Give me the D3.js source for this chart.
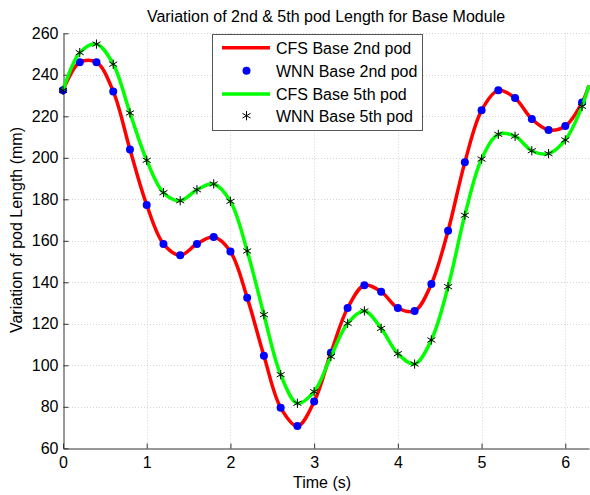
<!DOCTYPE html>
<html lang="en">
  <head>
    <meta charset="utf-8">
    <title>Variation of pod Length</title>
    <style>
      body { margin: 0; background: #fff; }
      text { font-family: "Liberation Sans", Arial, sans-serif; fill: #000; }
    </style>
  </head>
  <body>
    <svg width="590" height="495"></svg>
    <script src="https://cdn.jsdelivr.net/npm/d3@7"></script>
    <script>
      // sample times of the WNN points (s)
      const time = [0, 0.2, 0.4, 0.6, 0.8, 1.0, 1.2, 1.4, 1.6, 1.8, 2.0, 2.2, 2.4, 2.6, 2.8, 3.0,
                    3.2, 3.4, 3.6, 3.8, 4.0, 4.2, 4.4, 4.6, 4.8, 5.0, 5.2, 5.4, 5.6, 5.8, 6.0, 6.2];
      const wnn2nd = [232.5, 246, 246, 232, 204, 177.3, 158.5, 153, 158.5, 161.8, 154.8, 132.6, 104.6, 79.6, 70.7, 82.5,
                      106, 127.6, 138.6, 135.5, 127.6, 126.2, 139.2, 164.9, 197.8, 222.9, 232.5, 228.8, 218.7, 213.4, 215.3, 226.6];
      const wnn5th = [232.5, 250.7, 254.8, 245.1, 221.6, 198.8, 183.2, 179.3, 184.6, 187.4, 179, 155.1, 124.4, 95.5, 81.7, 87.3,
                      104.2, 120.2, 126.2, 117.8, 105.6, 100.6, 112.2, 137.9, 172.3, 199.4, 211.3, 210.4, 203.4, 202, 208.6, 224.8];
      // CFS curves: same samples continued to t = 2*pi
      const cfsTime = time.concat([2 * Math.PI]);
      const cfs2nd = wnn2nd.concat([235]);
      const cfs5th = wnn5th.concat([235]);

      const xTicks = [0, 1, 2, 3, 4, 5, 6];
      const yTicks = [60, 80, 100, 120, 140, 160, 180, 200, 220, 240, 260];
      const legendItems = ['CFS Base 2nd pod', 'WNN Base 2nd pod', 'CFS Base 5th pod', 'WNN Base 5th pod'];

      const svg = d3.select('svg');
      const plot = { left: 63, right: 589, top: 33.3, bottom: 448.3 };
      const fontSize = '16px';

      const x = d3.scaleLinear().domain([0, 2 * Math.PI]).range([plot.left, plot.right]);
      const y = d3.scaleLinear().domain([60, 260]).range([plot.bottom, plot.top]);

      // grid
      const grid = svg.append('g')
        .attr('stroke', '#d4d4d4')
        .attr('stroke-width', 1)
        .attr('stroke-dasharray', '1,2');
      grid.selectAll('.gx').data(xTicks.slice(1)).enter()
        .append('line')
        .attr('x1', d => Math.round(x(d)) + 0.5).attr('x2', d => Math.round(x(d)) + 0.5)
        .attr('y1', plot.top).attr('y2', plot.bottom);
      grid.selectAll('.gy').data(yTicks.slice(1)).enter()
        .append('line')
        .attr('y1', d => Math.round(y(d)) + 0.5).attr('y2', d => Math.round(y(d)) + 0.5)
        .attr('x1', plot.left).attr('x2', plot.right);

      // axes
      const xAxis = svg.append('g')
        .attr('transform', 'translate(0,' + (Math.round(plot.bottom) + 0.5) + ')')
        .call(d3.axisBottom(x).tickValues(xTicks).tickFormat(d3.format('d'))
          .tickSizeInner(-5).tickSizeOuter(0).tickPadding(8));
      const yAxis = svg.append('g')
        .attr('transform', 'translate(' + (plot.left + 0.5) + ',0)')
        .call(d3.axisLeft(y).tickValues(yTicks).tickSizeInner(-5).tickSizeOuter(0).tickPadding(5));
      [xAxis, yAxis].forEach(a => {
        a.selectAll('text').style('font-size', fontSize).style('font-family', '"Liberation Sans", Arial, sans-serif');
        a.select('.domain').attr('stroke', '#333');
        a.selectAll('.tick line').attr('stroke', '#333');
      });

      // curves
      const line = d3.line()
        .x(d => x(d[0]))
        .y(d => y(d[1]))
        .curve(d3.curveCatmullRom.alpha(0.5));

      svg.append('path')
        .datum(d3.zip(cfsTime, cfs2nd))
        .attr('fill', 'none')
        .attr('stroke', '#ff0000')
        .attr('stroke-width', 3.5)
        .attr('d', line);

      svg.selectAll('.dot').data(d3.zip(time, wnn2nd)).enter()
        .append('circle')
        .attr('cx', d => x(d[0]))
        .attr('cy', d => y(d[1]))
        .attr('r', 4)
        .attr('fill', '#0000ff');

      svg.append('path')
        .datum(d3.zip(cfsTime, cfs5th))
        .attr('fill', 'none')
        .attr('stroke', '#00ff00')
        .attr('stroke-width', 3.5)
        .attr('d', line);

      const star = d3.symbol().type(d3.symbolAsterisk).size(60);
      svg.selectAll('.star').data(d3.zip(time, wnn5th)).enter()
        .append('path')
        .attr('transform', d => 'translate(' + x(d[0]) + ',' + y(d[1]) + ')')
        .attr('d', star)
        .attr('fill', 'none')
        .attr('stroke', '#000')
        .attr('stroke-width', 1);

      // title and labels
      svg.append('text')
        .attr('x', 326).attr('y', 22)
        .attr('text-anchor', 'middle')
        .style('font-size', fontSize)
        .text('Variation of 2nd & 5th pod Length for Base Module');
      svg.append('text')
        .attr('x', 322).attr('y', 488)
        .attr('text-anchor', 'middle')
        .style('font-size', fontSize)
        .text('Time (s)');
      svg.append('text')
        .attr('transform', 'translate(22,230) rotate(-90)')
        .attr('text-anchor', 'middle')
        .style('font-size', fontSize)
        .text('Variation of pod Length (mm)');

      // legend
      const legend = svg.append('g');
      legend.append('rect')
        .attr('x', 212.5).attr('y', 34.5).attr('width', 210).attr('height', 96)
        .attr('fill', '#fff').attr('stroke', '#555').attr('stroke-width', 1);
      const rowY = [47.7, 70.7, 94, 115.7];
      const rows = legend.selectAll('.row').data(legendItems).enter()
        .append('g')
        .attr('transform', (d, i) => 'translate(0,' + rowY[i] + ')');
      rows.append('text')
        .attr('x', 276).attr('y', 6)
        .style('font-size', fontSize)
        .text(d => d);
      rows.filter((d, i) => i % 2 === 0).append('line')
        .attr('x1', 222).attr('x2', 270)
        .attr('stroke', (d, i) => i === 0 ? '#ff0000' : '#00ff00')
        .attr('stroke-width', 3.5);
      rows.filter((d, i) => i === 1).append('circle')
        .attr('cx', 246.5).attr('r', 4).attr('fill', '#0000ff');
      rows.filter((d, i) => i === 3).append('path')
        .attr('transform', 'translate(246.5,0)')
        .attr('d', star).attr('fill', 'none').attr('stroke', '#000');
    </script>
  </body>
</html>
